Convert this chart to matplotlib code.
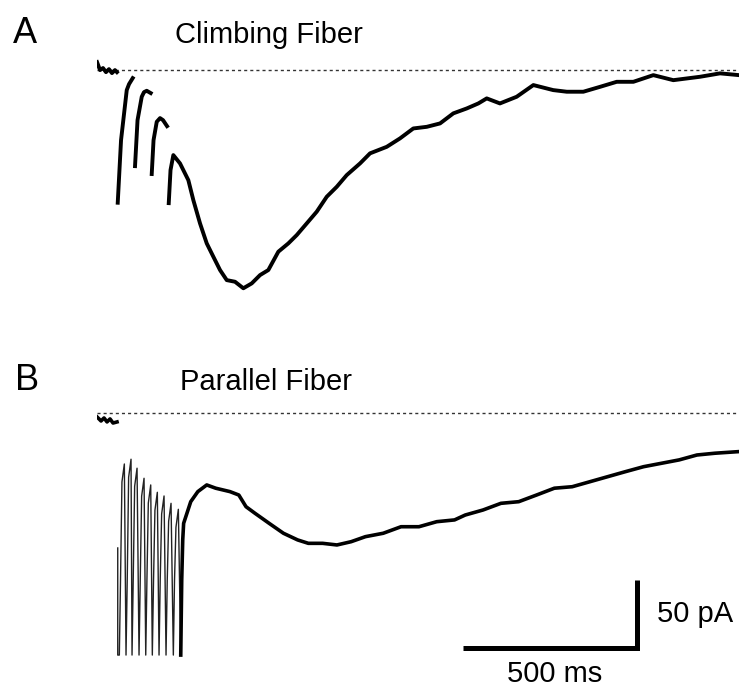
import matplotlib
matplotlib.use("Agg")
import numpy as np
import matplotlib.pyplot as plt

plt.rcParams['font.family'] = ['Liberation Sans', 'DejaVu Sans']

gap = np.nan

# A - climbing fiber trace (time in ms, current in pA); gaps = stimulus artifacts
cf_t = [0, 8.6, 17.2, 25.7, 34.3, 42.9, 51.5, 57.2, gap,
        59.5, 69, 85.4, 92, 102.6, gap,
        109.2, 116.4, 128.5, 135, 142.8, 154.3, gap,
        157.2, 162.4, 171.6, 181.1, 189.7, 201.2, gap,
        206.1, 211.2, 219.3, 238.5, 262.4, 276.8, 296.0, 315.3, 334.3, 353.5,
        372.8, 396.6, 420.5, 444.6, 468.5, 492.3, 521.1, 549.8, 573.9, 602.7,
        631.4, 660.2, 688.9, 717.6, 755.9, 784.6, 832.6, 870.8, 909.0, 947.6,
        985.8, 1024.0, 1062.5, 1095.9, 1120, 1158, 1206, 1254, 1311, 1350,
        1397.6, 1445.6, 1493.6, 1541.4, 1598.8, 1656.3, 1733, 1790.5, 1845]
cf_i = [5.9, 0, 1.5, -1.5, 0.7, -2.2, 0, -1.5, gap,
        -97.5, -51.5, -14.7, -10.3, -5.9, gap,
        -70.6, -36.8, -19.6, -16.2, -15.2, -16.9, gap,
        -76.4, -51.5, -38.0, -35.3, -36.8, -41.2, gap,
        -97.8, -73.5, -62.5, -68.6, -80.9, -95.6, -112.7, -127.4, -137.2, -147.0,
        -154.4, -155.6, -160.4, -156.8, -150.7, -147.0, -133.5, -127.4, -121.3, -112.7,
        -104.1, -93.1, -85.8, -77.2, -68.6, -61.2, -56.4, -50.2, -42.9, -41.7,
        -39.2, -31.8, -28.2, -24.5, -20.8, -24.5, -19.6, -11.0, -14.7, -15.9,
        -15.9, -12.3, -8.6, -8.6, -3.7, -7.4, -4.9, -2.4, -3.7]

# B - parallel fiber: baseline before the train
pf_pre_t = [0, 11.5, 20.1, 28.7, 37.4, 46, 57.5]
pf_pre_i = [-2.9, -5.9, -3.7, -6.6, -4.4, -7.4, -6.6]

# B - stimulus train artifacts (clipped at the bottom)
pf_train_t = [59.5, 59.5,
              64.1, 67.5, 71.6, 78.5,
              83.3, 86.8, 90.8, 97.7,
              100.6, 104.0, 108.1, 115,
              120.7, 124.2, 128.2, 135.1,
              140, 143.4, 147.4, 154.3,
              158.9, 162.4, 166.4, 173.3,
              178.2, 181.6, 185.7, 192.6,
              198.3, 201.8, 205.8, 212.7,
              219.3, 222.7, 226.8, 233.7,
              240.6]
pf_train_i = [-99.2, -177.9,
              -177.9, -122.7, -50.7, -37.5,
              -177.9, -122.7, -47.3, -34.0,
              -177.9, -122.7, -53.9, -40.6,
              -177.9, -122.7, -61.2, -48.0,
              -177.9, -122.7, -66.2, -52.9,
              -177.9, -122.7, -71.5, -58.3,
              -177.9, -122.7, -74.2, -61.0,
              -177.9, -122.7, -79.6, -66.4,
              -177.9, -122.7, -84.0, -70.8,
              -177.9]

# B - slow current after the train
pf_t = [240.6, 243.4, 246.3, 248.9, 269.3, 289.7, 315.3, 341.1, 382.0, 407.5,
        428.2, 453.8, 494.6, 535.7, 576.5, 607.3, 648.4, 689.5, 730.3, 771.4,
        822.5, 873.7, 925.2, 976.3, 1027.5, 1058.2, 1109.4, 1160.8, 1212.0,
        1263.2, 1314.3, 1365.7, 1416.9, 1468.0, 1519.2, 1570.6, 1621.8,
        1673.0, 1724.1, 1775.6, 1845]
pf_i = [-177.9, -122.7, -93.3, -81.1, -65.2, -57.8, -52.9, -55.3, -57.8, -60.3,
        -68.9, -73.7, -81.1, -88.4, -93.3, -95.8, -95.8, -97.0, -94.6, -90.9,
        -88.4, -83.6, -83.6, -79.9, -78.6, -75.0, -71.3, -66.4, -65.2,
        -60.3, -55.3, -54.2, -50.5, -46.8, -43.1, -39.5, -37.0,
        -34.5, -30.9, -29.6, -28.4]

# scale bars
bar_ms = 500
bar_pa = 50
bar_t0 = 1052
bar_i0 = -172.7

fig = plt.figure(figsize=(7.39, 6.88), dpi=100)

axA = fig.add_axes([0.1313, 0.5203, 0.8687, 0.4215])
axA.axhline(0, color='#333333', lw=1, dashes=(2.2, 2.2))
axA.plot(cf_t, cf_i, color='black', lw=2.8, solid_joinstyle='round')
axA.set_xlim(0, 1845)
axA.set_ylim(-191.1, 22.1)
axA.axis('off')

axB = fig.add_axes([0.1313, 0.0, 0.8687, 0.4259])
axB.axhline(0, color='#333333', lw=1, dashes=(2.2, 2.2))
axB.plot(pf_pre_t, pf_pre_i, color='black', lw=2.6, solid_joinstyle='round')
axB.plot(pf_train_t, pf_train_i, color='#222222', lw=1.0)
axB.plot(pf_t, pf_i, color='black', lw=2.6, solid_joinstyle='round')
axB.plot([bar_t0, bar_t0 + bar_ms, bar_t0 + bar_ms],
         [bar_i0, bar_i0, bar_i0 + bar_pa],
         color='black', lw=3.6, solid_joinstyle='miter', solid_capstyle='butt')
axB.text(bar_t0 + bar_ms + 57, bar_i0 + bar_pa / 2, '50 pA',
         fontsize=21, va='center', ha='left')
axB.text(bar_t0 + bar_ms / 2 + 14, -197.7, '500 ms',
         fontsize=21, va='baseline', ha='center')
axB.set_xlim(0, 1845)
axB.set_ylim(-202.1, 13.2)
axB.axis('off')

fig.text(0.0176, 0.9375, 'A', fontsize=26, va='baseline')
fig.text(0.2368, 0.9375, 'Climbing Fiber', fontsize=21, va='baseline')
fig.text(0.0203, 0.4331, 'B', fontsize=26, va='baseline')
fig.text(0.2436, 0.4331, 'Parallel Fiber', fontsize=21, va='baseline')

plt.savefig('out.png', dpi=100)
